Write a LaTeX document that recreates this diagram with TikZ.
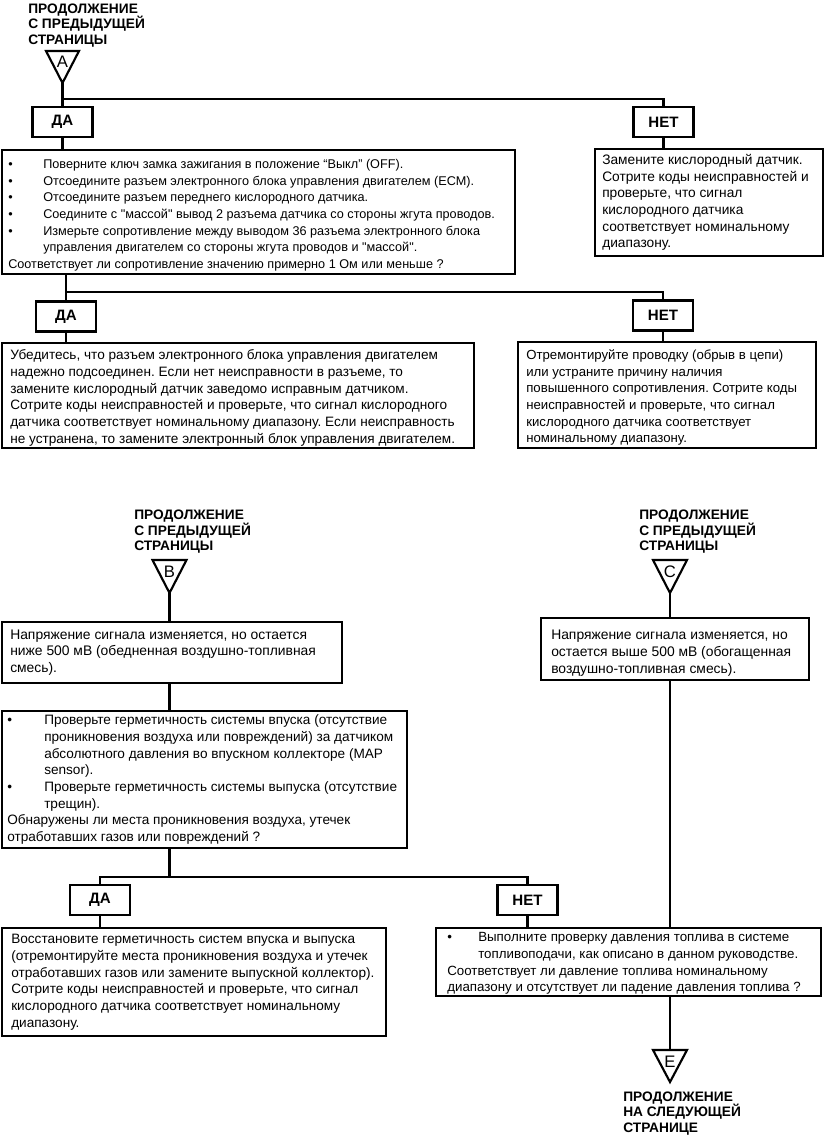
\documentclass[tikz,border=0pt]{standalone}
\usepackage{fontspec}
\setmainfont{Liberation Sans}
\newfontfamily\bodyff{Liberation Sans}
\usetikzlibrary{calc}
\newlength\pxu \setlength\pxu{0.75pt}
\newcommand\fsz[1]{\bodyff\fontsize{#1}{12.5}\selectfont\frenchspacing}
\newcommand\headfont{\fontsize{10.3}{11.6}\selectfont\bfseries}
\newcommand\bul[1]{\makebox[#1\pxu][l]{\textbullet}}
\newcommand\ind[1]{\hspace*{#1\pxu}}
\begin{document}
\begin{tikzpicture}[x=0.75pt,y=-0.75pt,
  conn/.style={line width=1.6pt},
  box/.style={draw,line width=1.6pt,anchor=north west,inner sep=0pt},
  txt/.style={anchor=west,align=left,inner sep=0pt},
  ans/.style={draw,line width=1.6pt,font=\fontsize{11.3}{12}\selectfont\bfseries,minimum width=60\pxu,minimum height=30\pxu,inner sep=0pt},
  head/.style={anchor=north west,align=left,font=\headfont,inner sep=0pt},
  tri/.style={line width=1.6pt,line join=miter},
  letter/.style={font=\fontsize{12.5}{12.5}\selectfont,inner sep=0pt}]
\useasboundingbox (0,0) rectangle (826,1137);

% ---------- A ----------
\node[head] (hA) at (28,3.5) {ПРОДОЛЖЕНИЕ\\С ПРЕДЫДУЩЕЙ\\СТРАНИЦЫ};
\draw[tri] (46,51) -- (79,51) -- (62.5,83) -- cycle;
\node[letter] (A) at (62.5,62) {A};
\coordinate (Aap) at (62.5,83);
\coordinate (s1) at (62.5,99);

\node[ans] (da1) at (62.5,122) {ДА};
\node[ans] (net1) at (663.5,122) {НЕТ};

\node[box, minimum width=513\pxu, minimum height=124\pxu] (b1) at (1,149) {};
\node[txt, font=\fsz{9.5}] (t1) at ($(b1.west)+(7,3)$)
{\bul{35}Поверните ключ замка зажигания в положение “Выкл” (OFF).\\
\bul{35}Отсоедините разъем электронного блока управления двигателем (ECM).\\
\bul{35}Отсоедините разъем переднего кислородного датчика.\\
\bul{35}Соедините с "массой" вывод 2 разъема датчика со стороны жгута проводов.\\
\bul{35}Измерьте сопротивление между выводом 36 разъема электронного блока\\
\ind{35}управления двигателем со стороны жгута проводов и "массой".\\
Соответствует ли сопротивление значению примерно 1 Ом или меньше ?};

\node[box, minimum width=228\pxu, minimum height=107\pxu] (r1) at (594,148) {};
\node[txt, font=\fsz{10.3}] (tr1) at ($(r1.west)+(8,0)$)
{Замените кислородный датчик.\\
Сотрите коды неисправностей и\\
проверьте, что сигнал\\
кислородного датчика\\
соответствует номинальному\\
диапазону.};

\draw[conn] (Aap) -- (da1);
\draw[conn] (s1) -| (net1);
\draw[conn] (da1) -- (da1 |- b1.north);
\draw[conn] (net1) -- (net1 |- r1.north);

% ---------- second level ----------
\coordinate (s2) at (66,292);
\node[ans] (da2) at (66,316.5) {ДА};
\node[ans] (net2) at (663,315.5) {НЕТ};

\node[box, minimum width=472\pxu, minimum height=105\pxu] (b2) at (1,342) {};
\node[txt, font=\fsz{10.2}] (t2) at ($(b2.west)+(9,2.5)$)
{Убедитесь, что разъем электронного блока управления двигателем\\
надежно подсоединен. Если нет неисправности в разъеме, то\\
замените кислородный датчик заведомо исправным датчиком.\\
Сотрите коды неисправностей и проверьте, что сигнал кислородного\\
датчика соответствует номинальному диапазону. Если неисправность\\
не устранена, то замените электронный блок управления двигателем.};

\node[box, minimum width=298\pxu, minimum height=106\pxu] (r2) at (517,341) {};
\node[txt, font=\fsz{9.9}] (tr2) at ($(r2.west)+(9,2.5)$)
{Отремонтируйте проводку (обрыв в цепи)\\
или устраните причину наличия\\
повышенного сопротивления. Сотрите коды\\
неисправностей и проверьте, что сигнал\\
кислородного датчика соответствует\\
номинальному диапазону.};

\draw[conn] (s2 |- b1.south) -- (da2);
\draw[conn] (s2) -| (net2);
\draw[conn] (da2) -- (da2 |- b2.north);
\draw[conn] (net2) -- (net2 |- r2.north);

% ---------- B ----------
\node[head] (hB) at (134,510) {ПРОДОЛЖЕНИЕ\\С ПРЕДЫДУЩЕЙ\\СТРАНИЦЫ};
\draw[tri] (152.5,560) -- (186.5,560) -- (169.5,593) -- cycle;
\node[letter] (B) at (169.5,572) {B};
\coordinate (Bap) at (169.5,593);

\node[box, minimum width=340\pxu, minimum height=61\pxu] (bB) at (1,621) {};
\node[txt, font=\fsz{10.4}] (tB) at ($(bB.west)+(9,0)$)
{Напряжение сигнала изменяется, но остается\\
ниже 500 мВ (обедненная воздушно-топливная\\
смесь).};

\node[box, minimum width=405\pxu, minimum height=137\pxu] (b3) at (1,710) {};
\node[txt, font=\fsz{10.2}] (t3) at ($(b3.west)+(6,0)$)
{\bul{37}Проверьте герметичность системы впуска (отсутствие\\
\ind{37}проникновения воздуха или повреждений) за датчиком\\
\ind{37}абсолютного давления во впускном коллекторе (MAP\\
\ind{37}sensor).\\
\bul{37}Проверьте герметичность системы выпуска (отсутствие\\
\ind{37}трещин).\\
Обнаружены ли места проникновения воздуха, утечек\\
отработавших газов или повреждений ?};

\draw[conn] (Bap) -- (Bap |- bB.north);
\draw[conn] (Bap |- bB.south) -- (Bap |- b3.north);

\coordinate (s3) at (169.5,877);
\node[ans] (daB) at (100,900) {ДА};
\node[ans] (netB) at (527.5,900) {НЕТ};
\draw[conn] (Bap |- b3.south) -- (s3);
\draw[conn] (daB) |- (s3);
\draw[conn] (s3) -| (netB);

\node[box, minimum width=384\pxu, minimum height=108\pxu] (b4) at (1,927) {};
\node[txt, font=\fsz{10.2}] (t4) at ($(b4.west)+(10,0)$)
{Восстановите герметичность систем впуска и выпуска\\
(отремонтируйте места проникновения воздуха и утечек\\
отработавших газов или замените выпускной коллектор).\\
Сотрите коды неисправностей и проверьте, что сигнал\\
кислородного датчика соответствует номинальному\\
диапазону.};

% ---------- C ----------
\node[head] (hC) at (639,510) {ПРОДОЛЖЕНИЕ\\С ПРЕДЫДУЩЕЙ\\СТРАНИЦЫ};
\draw[tri] (653,560) -- (687,560) -- (670,593) -- cycle;
\node[letter] (C) at (670,572) {C};
\coordinate (Cap) at (670,593);

\node[box, minimum width=268\pxu, minimum height=62\pxu] (bC) at (540,617) {};
\node[txt, font=\fsz{10.4}] (tC) at ($(bC.west)+(11,4)$)
{Напряжение сигнала изменяется, но\\
остается выше 500 мВ (обогащенная\\
воздушно-топливная смесь).};

\node[box, minimum width=385\pxu, minimum height=68\pxu] (fuel) at (435,927) {};
\node[txt, font=\fsz{10}] (tf) at ($(fuel.west)+(12,1.5)$)
{\bul{31}Выполните проверку давления топлива в системе\\
\ind{31}топливоподачи, как описано в данном руководстве.\\
Соответствует ли давление топлива номинальному\\
диапазону и отсутствует ли падение давления топлива ?};

\draw[conn] (daB) -- (daB |- b4.north);
\draw[conn] (netB) -- (netB |- fuel.north);
\draw[conn] (Cap) -- (Cap |- bC.north);
\draw[conn] (Cap |- bC.south) -- (Cap |- fuel.north);

% ---------- E ----------
\coordinate (Etop) at (670,1050);
\draw[tri] (653,1050) -- (687,1050) -- (670,1082) -- cycle;
\node[letter] (E) at (670,1062) {E};
\draw[conn] (Cap |- fuel.south) -- (Etop);
\node[head] (hE) at (623,1091.5) {ПРОДОЛЖЕНИЕ\\НА СЛЕДУЮЩЕЙ\\СТРАНИЦЕ};
\end{tikzpicture}
\end{document}
